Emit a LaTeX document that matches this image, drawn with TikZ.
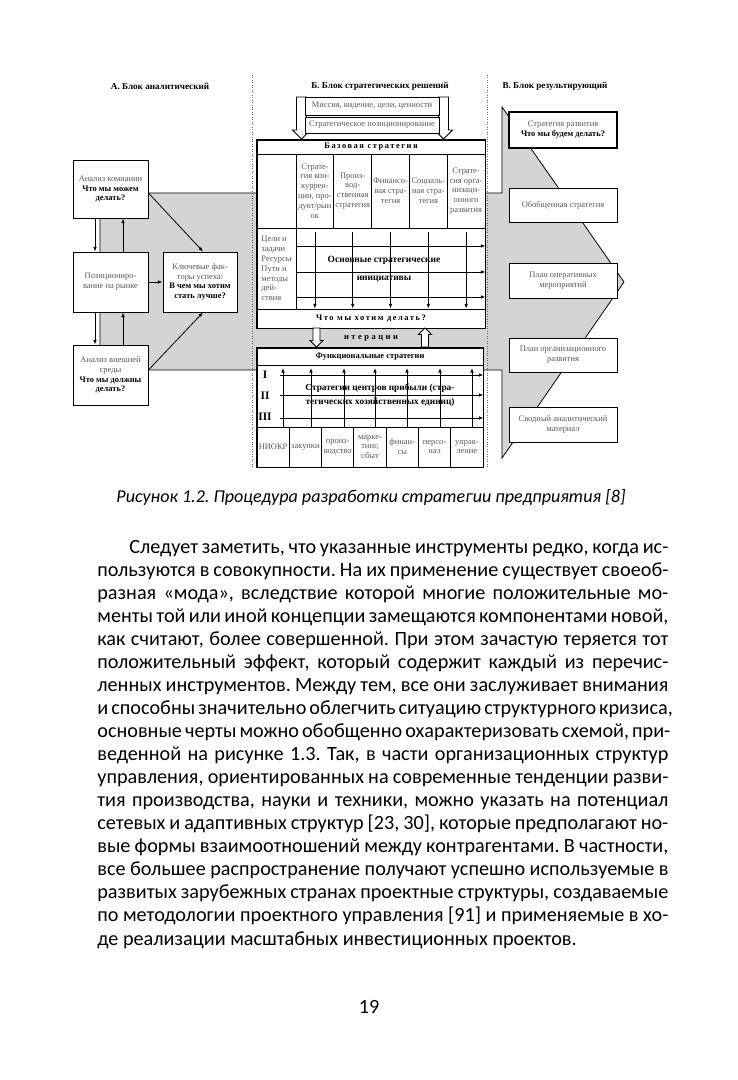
\documentclass[tikz,border=0pt]{standalone}
\usepackage{fontspec}
\setmainfont{Carlito}
\newfontfamily\schemefont{Liberation Serif}
\newfontfamily\spacedfont[LetterSpace=18]{Liberation Serif}
\newfontfamily\widefont[LetterSpace=30]{Liberation Serif}
\usetikzlibrary{arrows.meta}
\newcommand\schemesize{\fontsize{4.8}{5.6}\selectfont}
\newcommand\bodysize{\fontsize{11.5}{13.1}\selectfont}
\newcommand\keytext[1]{\textcolor{black}{\bfseries #1}}
\frenchspacing

\tikzset{
  cell/.style={draw,fill=white,line width=.5pt,inner sep=.4pt,align=center,font=\schemefont\schemesize,text=black!65},
  dim/.style 2 args={minimum width=#1*.2mm,minimum height=#2*.2mm},
  arr/.style={-{Latex[length=2.6pt,width=2pt]},line width=.45pt},
  headline/.style={font=\schemefont\fontsize{5.2}{6}\selectfont\bfseries},
  spaced/.style={font=\spacedfont\schemesize\bfseries,text=black},
  bold/.style={font=\schemefont\fontsize{5.4}{10}\selectfont\bfseries,align=center},
  divider/.style={densely dotted,line width=.4pt,black!60},
  pics/hollow/.style n args={3}{code={
    \draw[fill=white,line width=.5pt] (-#2,0) -- (-#2,#1-#3) -- (-#3,#1-#3) -- (0,#1) -- (#3,#1-#3) -- (#2,#1-#3) -- (#2,0) -- cycle;}}
}

\begin{document}
\begin{tikzpicture}[x=.2mm,y=-.2mm]
\useasboundingbox[fill=white] (0,0) rectangle (737,1080);
% grey band with the result arrow
\draw[fill=black!17,line width=.45pt] (100,193) -- (502,193) -- (502,107) -- (624,282) -- (502,458) -- (502,370) -- (100,370) -- cycle;
\draw[divider] (252,75) -- (252,467);
\draw[divider] (487,75) -- (487,467);
\node[headline] (hA) at (160,86) {А. Блок аналитический};
\node[headline] (hB) at (380,86) {Б. Блок стратегических решений};
\node[headline] (hC) at (555,86) {В. Блок результирующий};

% block A
\node[cell,dim={75}{58}] (a1) at (110.5,189) {Анализ компании\\\keytext{Что мы можем}\\\keytext{делать?}};
\node[cell,dim={75}{60}] (a2) at (110.5,282) {Позициониро-\\вание на рынке};
\node[cell,dim={75}{60}] (a3) at (110.5,375) {Анализ внешней\\среды\\\keytext{Что мы должны}\\\keytext{делать?}};
\node[cell,dim={74}{60}] (kfu) at (200,282) {Ключевые фак-\\торы успеха:\\\keytext{В чем мы хотим}\\\keytext{стать лучше?}};
\draw[arr] ([xshift=-3.1mm]a1.south) -- ([xshift=-3.1mm]a2.north);
\draw[arr] ([xshift=2.5mm]a2.north) -- ([xshift=2.5mm]a1.south);
\draw[arr] ([xshift=-3.1mm]a2.south) -- ([xshift=-3.1mm]a3.north);
\draw[arr] ([xshift=2.5mm]a3.north) -- ([xshift=2.5mm]a2.south);
\draw[arr] (a2) -- (kfu);
\draw[arr] ([yshift=-.8mm]a1.east) -- ([xshift=.6mm]kfu.north);
\draw[arr] ([yshift=1mm]a3.east) -- ([xshift=.6mm]kfu.south);

% block B
\pic at (301.5,97) {hollow={42}{5}{9}};
\pic at (443.5,97) {hollow={42}{5}{9}};
\node[cell,dim={134}{18}] (mis) at (372,106) {Миссия, видение, цели, ценности};
\node[cell,dim={134}{16}] (pos) at (372,125) {Стратегическое позиционирование};
\node[cell,spaced,dim={228}{14}] (bhead) at (371,147) {Базовая стратегия};
\node[cell,dim={39}{74}] (c0) at (276.5,191) {};
\node[cell,dim={37.8}{74}] (c1) at (314.9,191) {Страте-\\гия кон-\\куррен-\\ции, про-\\дукт/рын\\ок};
\node[cell,dim={37.8}{74}] (c2) at (352.7,191) {Произ-\\вод-\\ственная\\стратегия};
\node[cell,dim={37.8}{74}] (c3) at (390.5,191) {Финансо-\\вая стра-\\тегия};
\node[cell,dim={37.8}{74}] (c4) at (428.3,191) {Социаль-\\ная стра-\\тегия};
\node[cell,dim={37.8}{74}] (c5) at (466.1,191) {Страте-\\гия орга-\\низаци-\\онного\\развития};
\node[cell,dim={39}{81},align=left] (goals) at (276.5,268.5) {Цели и\\задачи\\Ресурсы\\Пути и\\методы\\дей-\\ствия};
\node[cell,dim={189}{81}] (ini) at (390.5,268.5) {};
\node[cell,spaced,dim={228}{19}] (bfoot) at (371,318.5) {Что мы хотим делать?};
\foreach \c in {1,...,5}\draw[arr] ([yshift=-.8mm]c\c.south) -- (c\c.south |- bfoot.north);
\foreach \yy in {246,272,297}\draw[arr] (ini.west |- 0,\yy) -- (ini.east |- 0,\yy);
\node[bold] (initxt) at (384,269) {Основные стратегические\\инициативы};
\draw[line width=.9pt] (bhead.north west) rectangle (bfoot.south east);

\pic at (316.5,328) {hollow={19}{3.5}{6.5}};
\pic[rotate=180] at (425,347) {hollow={19}{3.5}{6.5}};
\node[font=\widefont\schemesize\bfseries] (iter) at (371,338) {итерации};

\node[cell,dim={226}{17},font=\schemefont\schemesize\bfseries,text=black] (fhead) at (370,356.5) {Функциональные стратегии};
\node[cell,dim={226}{62}] (fmid) at (370,396) {};
\foreach \i/\lbl in {0/НИОКР,1/закупки,2/{произ-\\водство},3/{марке-\\тинг,\\сбыт},4/{финан-\\сы},5/{персо-\\нал},6/{управ-\\ление}}
  \node[cell,dim={32.29}{40}] (f\i) at (273.1+32.29*\i,447) {\lbl};
\foreach \n/\yy/\lbl in {1/375/I,2/396/II,3/417/III}
  \node[font=\schemefont\fontsize{6.5}{7}\selectfont\bfseries] (lv\n) at (265,\yy) {\lbl};
\foreach \xx in {283,311,344,375,407,440,472}\draw[arr] (\xx,0 |- fmid.south) -- (\xx,368);
\foreach \yy in {375,395,418}\draw[arr] (280,\yy) -- (fmid.east |- 0,\yy);
\node[bold,font=\schemefont\fontsize{5.3}{8}\selectfont\bfseries] (ctr) at (380,395) {Стратегии центров прибыли (стра-\\тегических хозяйственных единиц)};
\draw[line width=.9pt] (fhead.north west) rectangle (f6.south east);

% block C
\node[cell,dim={108}{36},line width=1.3pt] (res1) at (563,130) {Стратегия развития\\\keytext{Что мы будем делать?}};
\node[cell,dim={108}{34}] (res2) at (563,205) {Обобщенная стратегия};
\node[cell,dim={108}{35}] (res3) at (563,280.5) {План оперативных\\мероприятий};
\node[cell,dim={108}{34}] (res4) at (563,355) {План организационного\\развития};
\node[cell,dim={108}{35}] (res5) at (563,424.5) {Сводный аналитический\\материал};

% caption and text
\node[font=\fontsize{10.3}{12}\selectfont\itshape,anchor=base] (cap) at (371,502) {Рисунок 1.2. Процедура разработки стратегии предприятия [8]};
\foreach \i/\ln in {0/{\hspace*{6.4mm}Следует заметить, что указанные инструменты редко, когда ис-},
  1/{пользуются в совокупности. На их применение существует своеоб-},
  2/{разная «мода», вследствие которой многие положительные мо-},
  3/{менты той или иной концепции замещаются компонентами новой,},
  4/{как считают, более совершенной. При этом зачастую теряется тот},
  5/{положительный эффект, который содержит каждый из перечис-},
  6/{ленных инструментов. Между тем, все они заслуживает внимания},
  7/{и способны значительно облегчить ситуацию структурного кризиса,},
  8/{основные черты можно обобщенно охарактеризовать схемой, при-},
  9/{веденной на рисунке 1.3. Так, в части организационных структур},
  10/{управления, ориентированных на современные тенденции разви-},
  11/{тия производства, науки и техники, можно указать на потенциал},
  12/{сетевых и адаптивных структур [23, 30], которые предполагают но-},
  13/{вые формы взаимоотношений между контрагентами. В частности,},
  14/{все большее распространение получают успешно используемые в},
  15/{развитых зарубежных странах проектные структуры, создаваемые},
  16/{по методологии проектного управления [91] и применяемые в хо-}}
  \node[font=\bodysize,anchor=base west,inner sep=0pt] (l\i) at (97,553+23.06*\i) {\makebox[114.2mm][s]{\ln}};
\node[font=\bodysize,anchor=base west,inner sep=0pt] (l17) at (97,553+23.06*17) {де реализации масштабных инвестиционных проектов.};
\node[font=\bodysize,anchor=base] (pg) at (369,1013) {19};
\end{tikzpicture}
\end{document}
